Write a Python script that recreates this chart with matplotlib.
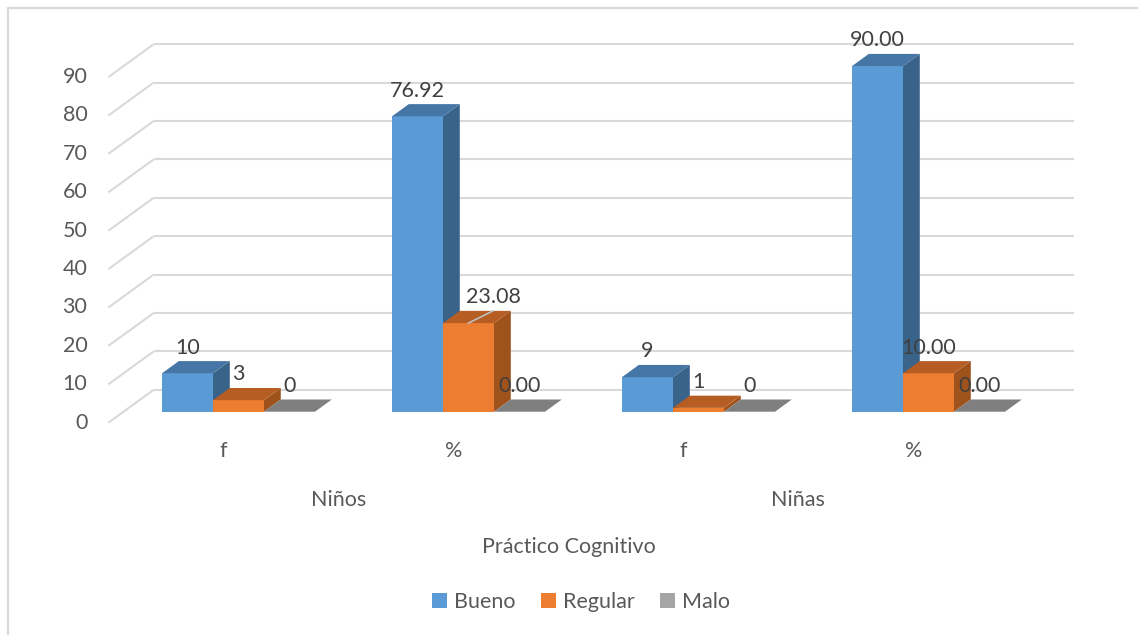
import matplotlib
matplotlib.use("Agg")
import matplotlib.pyplot as plt
from matplotlib.patches import Polygon

# ---- data ----
groups = ["Niños", "Niñas"]
categories = ["f", "%", "f", "%"]
series = ["Bueno", "Regular", "Malo"]
bueno = [10, 76.92, 9, 90.00]
regular = [3, 23.08, 1, 10.00]
malo = [0, 0.00, 0, 0.00]
label_fmt = ["{:.0f}", "{:.2f}", "{:.0f}", "{:.2f}"]
yticks = [0, 10, 20, 30, 40, 50, 60, 70, 80, 90]
axis_title = "Práctico Cognitivo"

values = [bueno, regular, malo]
front_cols = ["#5B9BD5", "#ED7D31", "#A5A5A5"]
top_cols = ["#4676A5", "#B55D22", "#7F7F7F"]
side_cols = ["#3A6389", "#A0521C", "#6E6E6E"]

# ---- geometry (pixels of the output image) ----
W, H = 1138, 635
X0_PX, CAT_PX = 238.5, 230.0      # centre of first category / category pitch
Y0_PX, UNIT_PX = 411.7, 3.84      # baseline / pixels per value unit
DX = 16.8 / CAT_PX                # oblique depth offset per bar depth
DY = 12.2 / UNIT_PX
BACK, FRONT = 1.8, -0.9           # depth of back wall and floor front
BAR_W = 51.0 / CAT_PX

fig = plt.figure(figsize=(W / 100, H / 100), dpi=100)
ax = fig.add_axes([0, 0, 1, 1])
ax.set_xlim(-X0_PX / CAT_PX, (W - X0_PX) / CAT_PX)
ax.set_ylim((Y0_PX - H) / UNIT_PX, Y0_PX / UNIT_PX)
ax.axis("off")

FONT = "Lato"
TXT = "#595959"
LBL = "#404040"
FS = 15.5

def px_x(p):
    return (p - X0_PX) / CAT_PX

def px_y(p):
    return (Y0_PX - p) / UNIT_PX

# chart frame (top and left edges visible)
ax.plot([px_x(8.5), px_x(8.5), px_x(W + 5)], [px_y(H + 5), px_y(7.7), px_y(7.7)],
        color="#D9D9D9", lw=1.6, zorder=0)

# back wall gridlines and side wall diagonals
xl, xr = -0.5, len(categories) - 0.5
for v in yticks:
    ax.plot([xl + BACK * DX, xr + BACK * DX], [v + BACK * DY, v + BACK * DY],
            color="#D9D9D9", lw=1.5, zorder=1, solid_capstyle="butt")
    ax.plot([xl + BACK * DX, xl + FRONT * DX], [v + BACK * DY, v + FRONT * DY],
            color="#D9D9D9", lw=1.5, zorder=1, solid_capstyle="butt")
    ax.text(xl + FRONT * DX - 21 / CAT_PX, v + FRONT * DY, str(v),
            ha="right", va="center", fontsize=FS, color=TXT, family=FONT)

# bars: front face through ax.bar, top and side faces as oblique polygons
offsets = [-BAR_W, 0.0, BAR_W]
containers = []
z = 2
for si, (vals, off) in enumerate(zip(values, offsets)):
    xs = [i + off for i in range(len(categories))]
    bc = ax.bar(xs, vals, width=BAR_W, color=front_cols[si], label=series[si],
                zorder=z + si * 3, linewidth=0)
    containers.append(bc)
    for x, v in zip(xs, vals):
        x0, x1 = x - BAR_W / 2, x + BAR_W / 2
        side = Polygon([(x1, 0), (x1, v), (x1 + DX, v + DY), (x1 + DX, DY)],
                       closed=True, facecolor=side_cols[si], edgecolor="none",
                       zorder=z + si * 3 + 1)
        top = Polygon([(x0, v), (x1, v), (x1 + DX, v + DY), (x0 + DX, v + DY)],
                      closed=True, facecolor=top_cols[si], edgecolor="none",
                      zorder=z + si * 3 + 2)
        ax.add_patch(side)
        ax.add_patch(top)

# data labels
label_shift = {(1, 1): 24.5 / CAT_PX}
for si, (vals, off) in enumerate(zip(values, offsets)):
    for i, v in enumerate(vals):
        x = i + off
        dxl = label_shift.get((si, i), 0.0)
        ytxt = v + DY + 3.5 / UNIT_PX
        ax.text(x + dxl, ytxt, label_fmt[i].format(v), ha="center", va="bottom",
                fontsize=FS, color=LBL, family=FONT, zorder=30)
        if dxl:
            ax.plot([x, x + dxl], [v, v + DY], color="#BFBFBF", lw=1.2, zorder=29)

# category axis labels
for i, c in enumerate(categories):
    ax.text(i + FRONT * DX, px_y(451), c, ha="center", va="center",
            fontsize=FS, color=TXT, family=FONT)
for g, name in enumerate(groups):
    ax.text(2 * g + 0.5 + FRONT * DX, px_y(500), name, ha="center", va="center",
            fontsize=FS, color=TXT, family=FONT)
ax.text(1.5 + FRONT * DX, px_y(547), axis_title, ha="center", va="center",
        fontsize=FS, color=TXT, family=FONT)

# legend
fig.legend(handles=containers, labels=series, loc="center",
           bbox_to_anchor=(581 / W, 1 - 602 / H), ncol=3, frameon=False,
           handlelength=0.7, handleheight=0.7, handletextpad=0.3,
           columnspacing=1.2, prop={"family": FONT, "size": FS},
           labelcolor=TXT)

fig.savefig("out.png", dpi=100)
